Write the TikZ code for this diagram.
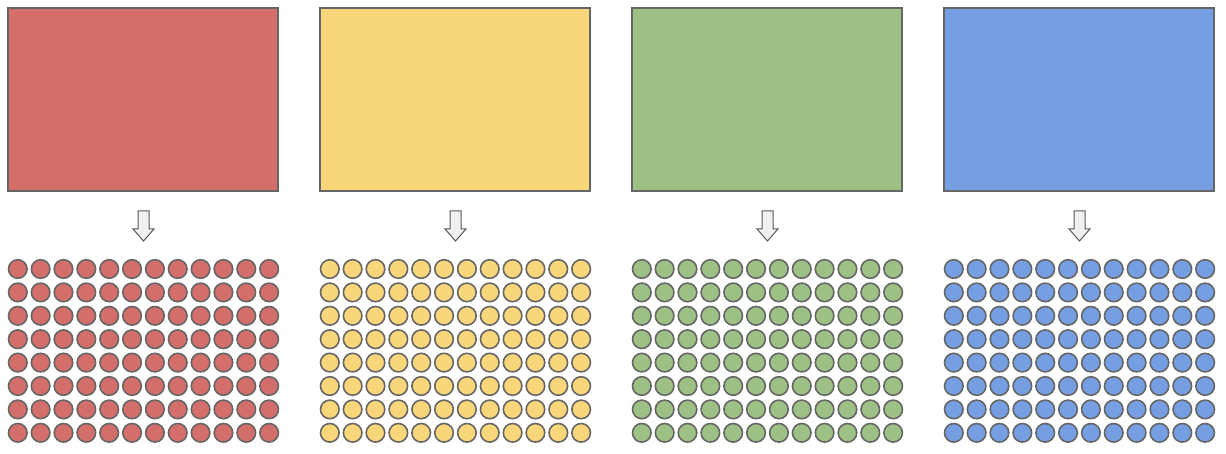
\documentclass[tikz,border=0pt]{standalone}
\usepackage{xcolor}
\usetikzlibrary{positioning}
\definecolor{redfill}{HTML}{D36E6A}
\definecolor{yellowfill}{HTML}{F9D67A}
\definecolor{greenfill}{HTML}{9DC184}
\definecolor{bluefill}{HTML}{769FE3}
\definecolor{edge}{HTML}{666666}

\begin{document}
\begin{tikzpicture}[x=1pt, y=-1pt,
  block/.style={draw=edge, line width=1.3pt, minimum width=270pt, minimum height=183pt, inner sep=0pt, outer sep=0pt},
  dot/.style={draw=edge, line width=1.6pt},
  downarrow/.style={draw=gray!70!black, fill=gray!12, line width=1pt, line join=miter}]
\useasboundingbox (0,0) rectangle (1226,454);
%%%%% Blocks, arrows and dots %%%%%
\foreach \c [count=\k from 0] in {redfill,yellowfill,greenfill,bluefill}{
\pgfmathsetmacro{\xo}{8+312*\k}
\node[block, fill=\c] (rect\k) at (\xo+135,99.5) {};
\coordinate (tip\k) at (\xo+135.5,241);
\draw[downarrow] ([xshift=-5.5pt]tip\k |- 0,211) -- ([xshift=5.5pt]tip\k |- 0,211)
  -- ([xshift=5.5pt]tip\k |- 0,229) -- ([xshift=10.5pt]tip\k |- 0,229) -- (tip\k)
  -- ([xshift=-10.5pt]tip\k |- 0,229) -- ([xshift=-5.5pt]tip\k |- 0,229) -- cycle;
\foreach \i in {0,...,11}{
\foreach \j in {0,...,7}{
\draw[dot, fill=\c] (\xo+9.8+22.85*\i, 269+23.4*\j) circle (9.3pt);
}
}
}
\end{tikzpicture}
\end{document}
